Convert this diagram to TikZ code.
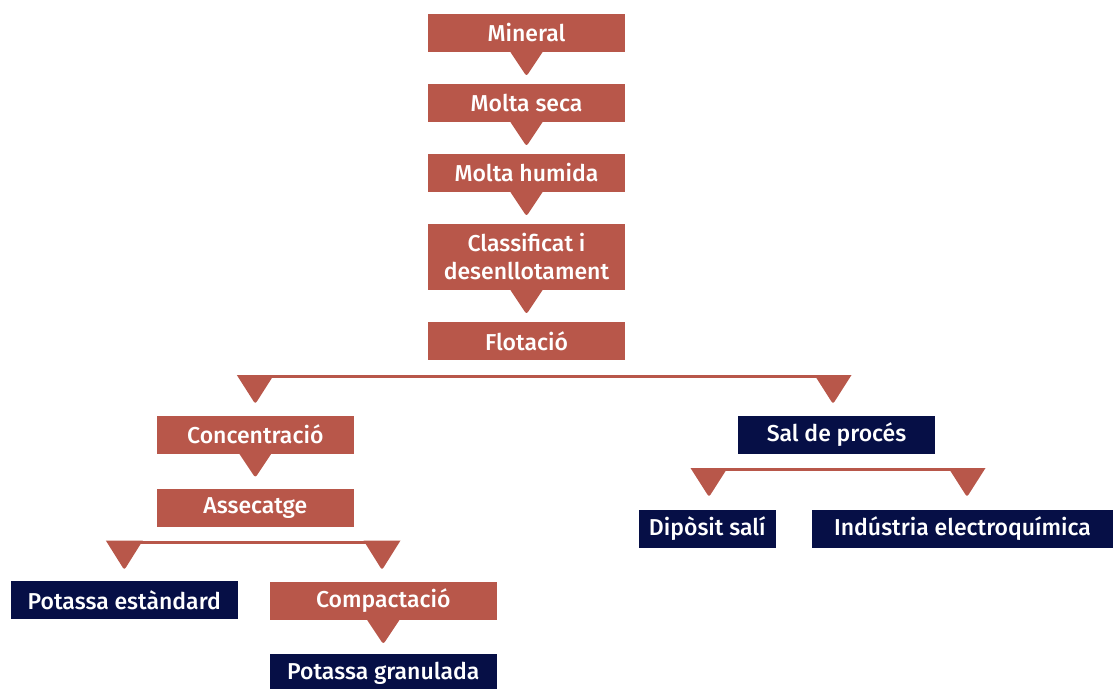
\documentclass[tikz,border=0pt]{standalone}
\usepackage{fontspec}
\setmainfont{Fira Sans}[BoldFont = Fira Sans Medium]
\usepackage{xcolor}
\usepackage{tikz}
\usetikzlibrary{positioning}

\definecolor{rust}{RGB}{184,87,74}
\definecolor{navy}{RGB}{6,15,70}

\tikzset{
    stage/.style = {rectangle, fill = rust, text = white, inner sep = 0pt,
        minimum width = 197pt, minimum height = 38pt, align = center,
        font = \fontsize{23}{28}\selectfont\bfseries},
    product/.style = {stage, fill = navy},
    link/.style = {draw = rust, line width = 3pt}
}

% downward pointing triangle: #1 = top centre, #2 = half width, #3 = height
\newcommand{\tridown}[3]{
    \fill[rust] #1 ++(-#2, 0) -- ++(2*#2, 0) [rounded corners = 2.5pt] -- ++(-#2, #3) [sharp corners] -- cycle;
}

\begin{document}
\begin{tikzpicture}[x = 1pt, y = -1pt]
        \useasboundingbox (0, 0) rectangle (1113, 688);

        % main column
        \node[stage] (mineral) at (526.5, 33) {Mineral};
        \node[stage] (seca) at (526.5, 103) {Molta seca};
        \node[stage] (humida) at (526.5, 173) {Molta humida};
        \node[stage, minimum height = 66pt] (classif) at (526.5, 257) {Classificat i\\desenllotament};
        \node[stage] (flotacio) at (526.5, 341) {Flotació};

        \tridown{(mineral.south)}{16}{24}
        \tridown{(seca.south)}{16}{24}
        \tridown{(humida.south)}{16}{24}
        \tridown{(classif.south)}{16}{24}

        % first branch
        \node[stage] (concen) at (255.3, 434.5) {Concentració};
        \node[product] (sal) at (836.5, 434.5) {Sal de procés};
        \coordinate (fl-l) at (255.3, 376.5);
        \coordinate (fl-r) at (833, 376.5);
        \draw[link] (fl-l) -- (fl-r);
        \tridown{(255.3, 375)}{18.5}{29}
        \tridown{(833, 375)}{18.5}{29}

        % left side
        \node[stage] (assec) at (255.3, 508) {Assecatge};
        \tridown{(concen.south)}{16}{24}

        \node[product, minimum width = 227pt] (pstd) at (124.3, 600) {Potassa estàndard};
        \node[stage, minimum width = 227pt] (compac) at (383.3, 601) {Compactació};
        \node[product, minimum width = 227pt] (pgran) at (383.3, 673) {Potassa granulada};
        \coordinate (as-l) at (124.3, 542);
        \coordinate (as-r) at (382, 542);
        \draw[link] (as-l) -- (as-r);
        \tridown{(124.3, 540.5)}{18.5}{29.5}
        \tridown{(382, 540.5)}{18.5}{29.5}
        \tridown{(compac.south)}{16}{24}

        % right side
        \node[product, minimum width = 137pt] (diposit) at (707.3, 529) {Dipòsit salí};
        \node[product, minimum width = 301pt] (industria) at (962.5, 529) {Indústria electroquímica};
        \coordinate (sa-l) at (709, 469.5);
        \coordinate (sa-r) at (967, 469.5);
        \draw[link] (sa-l) -- (sa-r);
        \tridown{(709, 468)}{18.5}{29}
        \tridown{(967, 468)}{18.5}{29}
    \end{tikzpicture}
\end{document}
